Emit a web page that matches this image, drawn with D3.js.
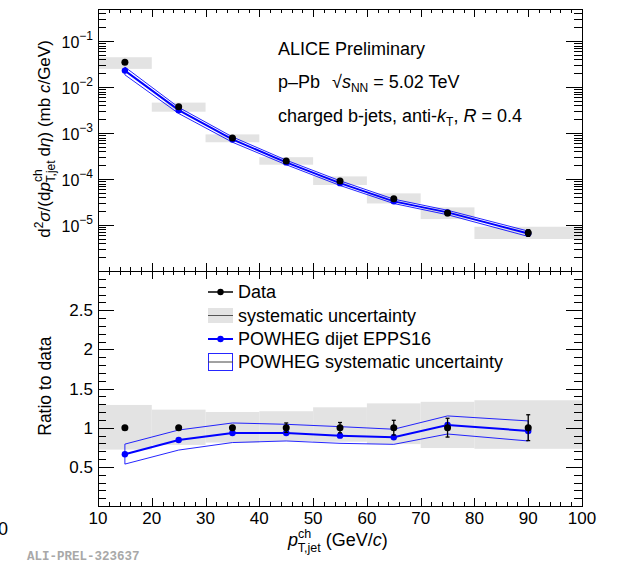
<!DOCTYPE html>
<html><head><meta charset="utf-8">
<script src="https://cdn.jsdelivr.net/npm/d3@7"></script>
<style>body{margin:0;background:#fff}svg{display:block}text{font-family:"Liberation Sans",Arial,Helvetica,sans-serif;fill:#000}</style>
</head><body><svg id="c" width="628" height="563"></svg>
<script>
// ---------- data ----------
const ptCenters = [15, 25, 35, 45, 55, 65, 75, 90];
const binLow    = [10, 20, 30, 40, 50, 60, 70, 80];
const binHigh   = [20, 30, 40, 50, 60, 70, 80, 100];
const dataXsec  = [3.46e-2, 3.74e-3, 7.8e-4, 2.47e-4, 9.06e-5, 3.73e-5, 1.82e-5, 6.8e-6];
const dataStatRel = [0.005, 0.008, 0.02, 0.06, 0.066, 0.094, 0.12, 0.165];
const sysUpRel    = [0.29, 0.23, 0.20, 0.21, 0.26, 0.31, 0.33, 0.35];
const sysDownRel  = [0.28, 0.22, 0.19, 0.17, 0.18, 0.21, 0.26, 0.27];
const powhegRatio     = [0.66, 0.842, 0.932, 0.932, 0.898, 0.877, 1.035, 0.958];
const powhegUpRatio   = [0.79, 0.97, 1.06, 1.043, 1.013, 0.98, 1.15, 1.086];
const powhegDownRatio = [0.535, 0.714, 0.81, 0.83, 0.80, 0.787, 0.919, 0.83];
const xTickLabels = [10, 20, 30, 40, 50, 60, 70, 80, 90, 100];
const ratioTickLabels = [0.5, 1, 1.5, 2, 2.5];
const logTickExps = [-5, -4, -3, -2, -1];

// ---------- layout ----------
const svg = d3.select("#c");
const L = 98, R = 582, T = 9, M = 271, B = 506;
const x = d3.scaleLinear([10, 100], [L, R]);
const yTop = d3.scaleLog([1e-6, 0.5], [M, T]);
const yR = d3.scaleLinear([0, 3], [B, M]);
const BLUE = "#0000ff", GREY = "#e3e3e3";

svg.append("defs").html(
  `<clipPath id="ct"><rect x="${L}" y="${T}" width="${R-L}" height="${M-T}"/></clipPath>
   <clipPath id="cr"><rect x="${L}" y="${M}" width="${R-L}" height="${B-M}"/></clipPath>`);

// ---------- top panel ----------
const gT = svg.append("g").attr("clip-path", "url(#ct)");
const idx = d3.range(ptCenters.length);
gT.selectAll("rect.sys").data(idx).join("rect")
  .attr("x", i => x(binLow[i])).attr("width", i => x(binHigh[i]) - x(binLow[i]))
  .attr("y", i => yTop(dataXsec[i] * (1 + sysUpRel[i])))
  .attr("height", i => yTop(dataXsec[i] * (1 - sysDownRel[i])) - yTop(dataXsec[i] * (1 + sysUpRel[i])))
  .attr("fill", GREY);

function bandPath(ys) {
  const up = idx.map(i => [x(ptCenters[i]), ys(powhegUpRatio[i], i)]);
  const dn = idx.map(i => [x(ptCenters[i]), ys(powhegDownRatio[i], i)]).reverse();
  return d3.line().curve(d3.curveLinearClosed)(up.concat(dn));
}
function drawModel(g, ys) {
  g.append("path").attr("d", bandPath(ys)).attr("fill", "none").attr("stroke", BLUE).attr("stroke-width", 1).attr("stroke-opacity", 0.85);
  g.append("path").attr("d", d3.line()(idx.map(i => [x(ptCenters[i]), ys(powhegRatio[i], i)])))
    .attr("fill", "none").attr("stroke", BLUE).attr("stroke-width", 2);
  g.selectAll("circle.m").data(idx).join("circle").attr("class", "m")
    .attr("cx", i => x(ptCenters[i])).attr("cy", i => ys(powhegRatio[i], i)).attr("r", 3.2).attr("fill", BLUE);
}
function drawData(g, yc, ylo, yhi) {
  g.selectAll("line.e").data(idx).join("line").attr("class", "e")
    .attr("x1", i => x(ptCenters[i])).attr("x2", i => x(ptCenters[i]))
    .attr("y1", i => ylo(i)).attr("y2", i => yhi(i)).attr("stroke", "#000").attr("stroke-width", 1.3);
  [ylo, yhi].forEach((f, k) => g.selectAll("line.c" + k).data(idx).join("line").attr("class", "c" + k)
    .attr("x1", i => x(ptCenters[i]) - 2).attr("x2", i => x(ptCenters[i]) + 2)
    .attr("y1", i => f(i)).attr("y2", i => f(i)).attr("stroke", "#000").attr("stroke-width", 1.3));
  g.selectAll("circle.d").data(idx).join("circle").attr("class", "d")
    .attr("cx", i => x(ptCenters[i])).attr("cy", i => yc(i)).attr("r", 3.5).attr("fill", "#000");
}
drawModel(gT, (r, i) => yTop(dataXsec[i] * r));
drawData(gT, i => yTop(dataXsec[i]), i => yTop(dataXsec[i] * (1 - dataStatRel[i])), i => yTop(dataXsec[i] * (1 + dataStatRel[i])));

// ---------- ratio panel ----------
const gR = svg.append("g").attr("clip-path", "url(#cr)");
gR.selectAll("rect.sys").data(idx).join("rect")
  .attr("x", i => x(binLow[i])).attr("width", i => x(binHigh[i]) - x(binLow[i]))
  .attr("y", i => yR(1 + sysUpRel[i])).attr("height", i => yR(1 - sysDownRel[i]) - yR(1 + sysUpRel[i]))
  .attr("fill", GREY);
drawModel(gR, (r) => yR(r));
drawData(gR, i => yR(1), i => yR(1 - dataStatRel[i]), i => yR(1 + dataStatRel[i]));

// ---------- axes / frames ----------
const ax = svg.append("g").attr("shape-rendering", "crispEdges");
function axis(gen, tx, ty) {
  ax.append("g").attr("transform", `translate(${tx},${ty})`).call(gen)
    .call(g => g.select(".domain").remove())
    .call(g => g.selectAll("line").attr("stroke", "#000"));
}
const xMinor = d3.range(10, 100.01, 2);
[[T, 1], [M, -1], [M, 1], [B, -1]].forEach(([yy, s]) => {
  axis(d3.axisBottom(x).tickValues(xMinor).tickSize(4 * s).tickFormat(""), 0, yy);
  axis(d3.axisBottom(x).tickValues(xTickLabels).tickSize(8 * s).tickFormat(""), 0, yy);
});
const logMajor = logTickExps.map(e => Math.pow(10, e));
const logMinor = yTop.ticks().filter(v => Math.abs(Math.log10(v) - Math.round(Math.log10(v))) > 1e-6);
const rMinor = d3.range(0, 3.001, 0.1);
[[L, -1], [R, 1]].forEach(([xx, s]) => {
  axis(d3.axisLeft(yTop).tickValues(logMinor).tickSize(8 * s).tickFormat(""), xx, 0);
  axis(d3.axisLeft(yTop).tickValues(logMajor).tickSize(16 * s).tickFormat(""), xx, 0);
  axis(d3.axisLeft(yR).tickValues(rMinor).tickSize(8 * s).tickFormat(""), xx, 0);
  axis(d3.axisLeft(yR).tickValues(ratioTickLabels).tickSize(16 * s).tickFormat(""), xx, 0);
});
ax.append("rect").attr("x", L).attr("y", T).attr("width", R - L).attr("height", M - T).attr("fill", "none").attr("stroke", "#000");
ax.append("rect").attr("x", L).attr("y", M).attr("width", R - L).attr("height", B - M).attr("fill", "none").attr("stroke", "#000");

// tick labels
logTickExps.forEach(e => {
  const t = svg.append("text").attr("x", L - 5).attr("y", yTop(Math.pow(10, e)) + 7).attr("text-anchor", "end").attr("font-size", 16);
  t.append("tspan").text("10");
  t.append("tspan").attr("dy", -8).attr("font-size", 12).text("\u2212" + Math.abs(e));
});
ratioTickLabels.forEach(v => svg.append("text").attr("x", L - 5).attr("y", yR(v) + 6).attr("text-anchor", "end").attr("font-size", 17).text(String(v)));
xTickLabels.forEach(v => svg.append("text").attr("x", x(v)).attr("y", 524).attr("text-anchor", "middle").attr("font-size", 17).text(String(v)));

// axis titles
const yt = svg.append("text").attr("transform", "translate(50,139) rotate(-90)").attr("text-anchor", "middle").attr("font-size", 17);
yt.append("tspan").text("d");
yt.append("tspan").attr("dy", -7).attr("font-size", 12).text("2");
yt.append("tspan").attr("dy", 7).attr("font-style", "italic").text("\u03c3");
yt.append("tspan").text("/(d");
yt.append("tspan").attr("font-style", "italic").text("p");
yt.append("tspan").attr("dy", -8).attr("font-size", 12).text("ch");
yt.append("tspan").attr("dx", -13).attr("dy", 13).attr("font-size", 12).text("T,jet");
yt.append("tspan").attr("dx", 4).attr("dy", -5).text("d");
yt.append("tspan").attr("font-style", "italic").text("\u03b7");
yt.append("tspan").text(") (mb ");
yt.append("tspan").attr("font-style", "italic").text("c");
yt.append("tspan").text("/GeV)");

svg.append("text").attr("transform", `translate(51,${yR(1.53)}) rotate(-90)`).attr("text-anchor", "middle").attr("font-size", 17.5).text("Ratio to data");

const xt = svg.append("text").attr("x", 288).attr("y", 546).attr("font-size", 18);
xt.append("tspan").attr("font-style", "italic").text("p");
xt.append("tspan").attr("dy", -8).attr("font-size", 12.5).text("ch");
xt.append("tspan").attr("dx", -13.5).attr("dy", 14).attr("font-size", 12.5).text("T,jet");
xt.append("tspan").attr("dy", -6).text(" (GeV/");
xt.append("tspan").attr("font-style", "italic").text("c");
xt.append("tspan").text(")");

// top-panel annotations
svg.append("text").attr("x", 278).attr("y", 55).attr("font-size", 18).text("ALICE Preliminary");
const t2 = svg.append("text").attr("x", 278).attr("y", 88).attr("font-size", 18);
t2.append("tspan").text("p\u2013Pb");
t2.append("tspan").attr("dx", 12).text("\u221a");
t2.append("tspan").attr("font-style", "italic").text("s");
t2.append("tspan").attr("dy", 4).attr("font-size", 12).text("NN");
t2.append("tspan").attr("dy", -4).text(" = 5.02 TeV");
const t3 = svg.append("text").attr("x", 278).attr("y", 122).attr("font-size", 18);
t3.append("tspan").text("charged b-jets, anti-");
t3.append("tspan").attr("font-style", "italic").text("k");
t3.append("tspan").attr("dy", 4).attr("font-size", 12).text("T");
t3.append("tspan").attr("dy", -4).text(", ");
t3.append("tspan").attr("font-style", "italic").text("R");
t3.append("tspan").text(" = 0.4");

// ratio legend
const lg = svg.append("g");
const lx0 = 208, lx1 = 233, lxm = 220.5;
lg.append("line").attr("x1", lx0).attr("x2", lx1).attr("y1", 292).attr("y2", 292).attr("stroke", "#000").attr("stroke-width", 1.5);
lg.append("circle").attr("cx", lxm).attr("cy", 292).attr("r", 3.2).attr("fill", "#000");
lg.append("rect").attr("x", lx0).attr("y", 308).attr("width", lx1 - lx0).attr("height", 15).attr("fill", GREY);
lg.append("line").attr("x1", lx0).attr("x2", lx1).attr("y1", 315.5).attr("y2", 315.5).attr("stroke", "#555").attr("stroke-width", 1);
lg.append("line").attr("x1", lx0).attr("x2", lx1).attr("y1", 339).attr("y2", 339).attr("stroke", BLUE).attr("stroke-width", 2);
lg.append("circle").attr("cx", lxm).attr("cy", 339).attr("r", 3.2).attr("fill", BLUE);
lg.append("rect").attr("x", lx0 + 0.5).attr("y", 353.5).attr("width", lx1 - lx0 - 1).attr("height", 17).attr("fill", "none").attr("stroke", BLUE).attr("stroke-opacity", 0.85);
lg.append("line").attr("x1", lx0).attr("x2", lx1).attr("y1", 362).attr("y2", 362).attr("stroke", "#444").attr("stroke-width", 1);
[["Data", 298], ["systematic uncertainty", 322], ["POWHEG dijet EPPS16", 345], ["POWHEG systematic uncertainty", 368]]
  .forEach(([s, yy]) => lg.append("text").attr("x", 238).attr("y", yy).attr("font-size", 18).text(s));

// extras
svg.append("text").attr("x", 8).attr("y", 535).attr("text-anchor", "end").attr("font-size", 18).text("100");
svg.append("text").attr("x", 27).attr("y", 560).attr("font-size", 12.5).attr("font-weight", "bold")
  .style("font-family", "'Liberation Mono','DejaVu Sans Mono',monospace").style("fill", "#a8a8a8").text("ALI-PREL-323637");
</script></body></html>
